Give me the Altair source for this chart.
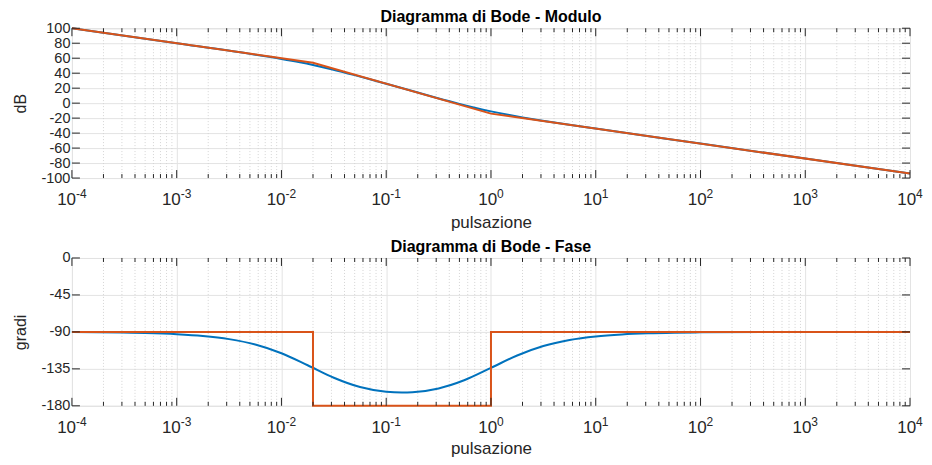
import altair as alt
import pandas as pd

# ---------------- data ----------------
decades = [1e-4, 1e-3, 1e-2, 1e-1, 1, 10, 100, 1000, 1e4]
minor_ticks = [m * d for d in decades[:-1] for m in range(2, 10)]
neg_decades = [1e-4, 1e-3, 1e-2, 1e-1]
neg_exponents = ["-4", "-3", "-2", "-1"]
pos_decades = [1, 10, 100, 1000, 1e4]
pos_exponents = ["0", "1", "2", "3", "4"]
mag_ticks = [-100, -80, -60, -40, -20, 0, 20, 40, 60, 80, 100]
phase_ticks = [0, -45, -90, -135, -180]

# exact magnitude (blue)
mag_w = [1e-4, 1e-3, 0.005, 0.01, 0.015, 0.02, 0.03, 0.05, 0.07, 0.1, 0.2, 0.3,
         0.5, 0.7, 1, 1.5, 2, 3, 5, 10, 100, 1000, 1e4]
mag_db = [100, 79.99, 65.76, 59.03, 54.54, 50.97, 45.34, 37.43, 31.90, 25.89, 14.11, 7.29,
          -0.98, -6.06, -10.97, -15.9, -19.03, -23.06, -27.79, -33.94, -53.98, -73.98, -93.98]

# asymptotic magnitude (orange)
asym_w = [1e-4, 0.02, 1, 1e4]
asym_db = [100, 53.98, -13.98, -93.98]

# exact phase (blue)
ph_w = [1e-4, 3e-4, 5e-4, 1e-3, 0.001778, 0.003162, 0.005623, 0.01, 0.01778, 0.03162,
        0.05623, 0.1, 0.1414, 0.1778, 0.3162, 0.5623, 1, 1.778, 3.162, 5.623, 10,
        17.78, 31.62, 56.23, 100, 1000, 1e4]
ph_deg = [-90.28, -90.84, -91.4, -92.81, -94.98, -98.81, -105.38, -116.0, -130.61, -145.88,
          -157.2, -162.98, -163.9, -163.5, -158.83, -148.61, -133.85, -118.72, -107.19, -99.88, -95.6,
          -93.16, -91.77, -91.0, -90.56, -90.06, -90.01]

# asymptotic phase (orange)
aph_w = [1e-4, 0.02, 0.02, 1, 1, 1e4]
aph_deg = [-90, -90, -180, -180, -90, -90]

# ---------------- style ----------------
W, H1, H2 = 839, 150, 148
FONT = "Liberation Sans"
FSX = 17      # "10" of the x tick labels
FSE = 12      # exponent
FSY = 14.5    # y tick labels
FST = 16      # titles
BLUE, ORANGE, AX = "#0072BD", "#D95319", "#262626"
GRID = "#e3e3e3"


def xenc(tp=35):
    return alt.X(
        "w:Q",
        scale=alt.Scale(type="log", domain=[1e-4, 1e4], nice=False),
        axis=alt.Axis(values=decades, labels=False, grid=True, gridColor=GRID,
                      tickSize=0, domain=False,
                      titleFont=FONT, titleFontSize=FSX, titleFontWeight="normal",
                      titleColor=AX, titlePadding=tp),
        title="pulsazione",
    )


def yenc(ticks, dom, title):
    return alt.Y(
        "v:Q",
        scale=alt.Scale(domain=dom, nice=False, zero=False),
        axis=alt.Axis(values=ticks, labelExpr="'' + datum.value", grid=True, gridColor=GRID,
                      tickSize=0, domain=False,
                      labelFontSize=FSY, labelFont=FONT, labelColor=AX, labelPadding=2,
                      labelOverlap=False, titleFont=FONT, titleFontSize=FST,
                      titleFontWeight="normal", titleColor=AX, titlePadding=12),
        title=title,
    )


def panel(lines, yticks, ydom, ytitle, title, H, tp):
    X = lambda: xenc(tp)
    dmin = pd.DataFrame({"w": minor_ticks})
    dmaj = pd.DataFrame({"w": decades})
    dyt = pd.DataFrame({"v": yticks})
    minor_grid = alt.Chart(dmin).mark_rule(color="#d4d4d4", strokeDash=[1, 2], strokeWidth=1).encode(
        x=X(), y=alt.value(0), y2=alt.value(H))
    layers = [minor_grid]
    for ln in lines:
        layers.append(ln.encode(x=X()))
    tk = dict(color=AX, strokeWidth=1)
    layers += [
        alt.Chart(dmaj).mark_rule(**tk).encode(x=X(), y=alt.value(H - 8), y2=alt.value(H)),
        alt.Chart(dmaj).mark_rule(**tk).encode(x=X(), y=alt.value(0), y2=alt.value(8)),
        alt.Chart(dmin).mark_rule(**tk).encode(x=X(), y=alt.value(H - 4), y2=alt.value(H)),
        alt.Chart(dmin).mark_rule(**tk).encode(x=X(), y=alt.value(0), y2=alt.value(4)),
        alt.Chart(dyt).mark_rule(**tk).encode(y=yenc(yticks, ydom, ytitle), x=alt.value(0), x2=alt.value(8)),
        alt.Chart(dyt).mark_rule(**tk).encode(y=yenc(yticks, ydom, ytitle), x=alt.value(W - 8), x2=alt.value(W)),
    ]
    # x tick labels: "10" plus a raised exponent
    dneg = pd.DataFrame({"w": neg_decades, "e": neg_exponents, "b": ["10"] * len(neg_decades)})
    dpos = pd.DataFrame({"w": pos_decades, "e": pos_exponents, "b": ["10"] * len(pos_decades)})
    for df, split in ((dneg, 4.1), (dpos, 6.1)):
        layers.append(alt.Chart(df).mark_text(align="right", baseline="alphabetic", dx=split,
                                              font=FONT, fontSize=FSX, color=AX).encode(
            x=X(), y=alt.value(H + 27), text="b:N"))
        layers.append(alt.Chart(df).mark_text(align="left", baseline="alphabetic", dx=split,
                                              font=FONT, fontSize=FSE, color=AX).encode(
            x=X(), y=alt.value(H + 20), text="e:N"))
    return alt.layer(*layers).properties(
        width=W, height=H,
        title=alt.TitleParams(title, font=FONT, fontSize=FST, fontWeight="bold", color="black", offset=-5),
    )


mag_exact_df = pd.DataFrame({"w": mag_w, "v": mag_db})
mag_asym_df = pd.DataFrame({"w": asym_w, "v": asym_db})
ph_exact_df = pd.DataFrame({"w": ph_w, "v": ph_deg})
ph_asym_df = pd.DataFrame({"w": aph_w, "v": aph_deg, "i": list(range(len(aph_w)))})

ymag = lambda: yenc(mag_ticks, [-100, 100], "dB")
yph = lambda: yenc(phase_ticks, [-180, 0], "gradi")

top_lines = [
    alt.Chart(mag_exact_df).mark_line(color=BLUE, strokeWidth=2, interpolate="monotone").encode(y=ymag()),
    alt.Chart(mag_asym_df).mark_line(color=ORANGE, strokeWidth=2).encode(y=ymag()),
]
bot_lines = [
    alt.Chart(ph_exact_df).mark_line(color=BLUE, strokeWidth=2, interpolate="monotone").encode(y=yph()),
    alt.Chart(ph_asym_df).mark_line(color=ORANGE, strokeWidth=2).encode(y=yph(), order="i:Q"),
]

top = panel(top_lines, mag_ticks, [-100, 100], "dB", "Diagramma di Bode - Modulo", H1, 36)
bot = panel(bot_lines, phase_ticks, [-180, 0], "gradi", "Diagramma di Bode - Fase", H2, 34)

chart = alt.vconcat(top, bot, spacing=7).properties(
    padding={"left": 4, "top": 0, "right": 0, "bottom": 0}
).configure_view(stroke=AX, strokeWidth=1).configure(background="white")

chart.save("out.html", embed_options={"renderer": "svg", "actions": False})
